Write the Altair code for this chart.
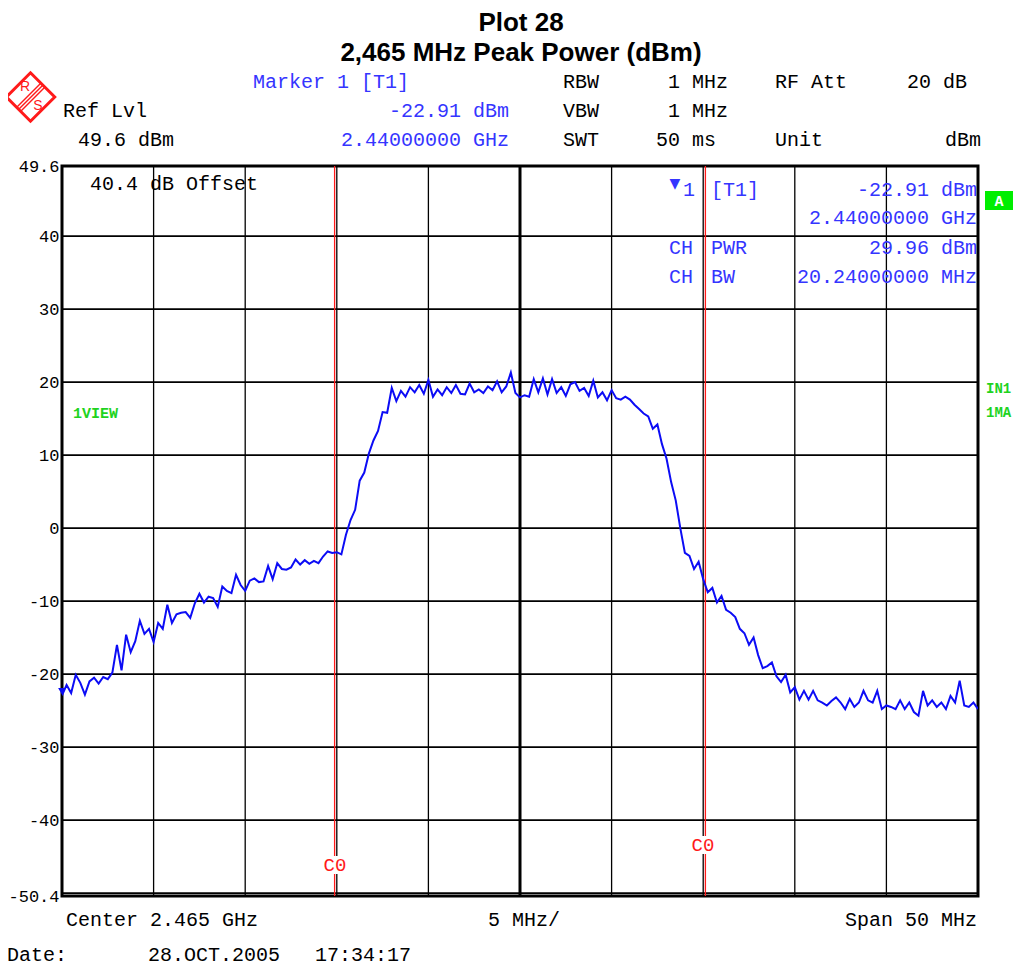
import altair as alt
import pandas as pd

# ---------------- data ----------------
START_GHZ = 2.44
STOP_GHZ = 2.49
levels_dbm = [
    -22.9, -21.5, -22.6, -20.1,
    -21.2, -22.8, -21.0, -20.5,
    -21.3, -20.4, -20.7, -19.8,
    -16.0, -19.5, -14.6, -17.0,
    -15.5, -12.7, -14.5, -13.8,
    -15.6, -13.0, -13.8, -10.5,
    -13.0, -11.8, -11.6, -11.5,
    -12.3, -10.3, -9.0, -10.2,
    -9.4, -9.6, -10.8, -8.0,
    -8.6, -8.9, -6.4, -7.8,
    -8.6, -7.2, -6.9, -7.4,
    -7.3, -5.2, -7.0, -4.8,
    -5.6, -5.7, -5.4, -4.3,
    -5.0, -4.4, -4.9, -4.5,
    -4.8, -3.9, -3.2, -3.4,
    -3.3, -3.6, -0.9, 1.1,
    2.5, 6.5, 7.6, 10.2,
    12.0, 13.3, 15.9, 15.8,
    19.2, 17.4, 18.8, 18.0,
    19.3, 18.6, 19.6, 18.4,
    20.3, 18.0, 19.0, 18.2,
    19.3, 18.5, 19.6, 18.4,
    18.3, 19.8, 18.6, 19.0,
    18.5, 19.4, 18.9, 20.1,
    18.6, 19.4, 21.3, 18.5,
    17.9, 18.2, 18.0, 20.4,
    18.6, 20.5, 18.3, 20.4,
    18.5, 19.3, 18.1, 19.7,
    20.0, 18.8, 19.2, 18.1,
    20.2, 17.9, 18.6, 17.5,
    18.9, 17.8, 17.6, 18.0,
    17.6, 16.9, 16.3, 15.7,
    15.3, 13.6, 14.2, 11.5,
    9.5, 6.3, 3.8, 0.0,
    -3.4, -3.8, -5.6, -4.6,
    -7.0, -8.8, -8.2, -10.2,
    -9.3, -11.2, -11.6, -12.2,
    -13.8, -14.4, -16.0, -15.0,
    -17.4, -19.2, -18.9, -18.4,
    -20.3, -21.1, -20.1, -22.5,
    -21.8, -23.5, -22.3, -23.5,
    -22.3, -23.6, -23.9, -24.3,
    -23.7, -23.2, -23.9, -24.8,
    -23.4, -24.5, -23.9, -22.3,
    -23.6, -23.9, -22.3, -24.8,
    -24.3, -24.5, -24.8, -23.6,
    -24.8, -23.9, -25.2, -25.7,
    -22.3, -24.3, -23.6, -24.5,
    -23.9, -24.8, -23.0, -23.9,
    -20.9, -24.3, -24.5, -23.9,
    -24.8,
]
N = len(levels_dbm)
freqs_ghz = [START_GHZ + i * (STOP_GHZ - START_GHZ) / (N - 1) for i in range(N)]

vgrid_ghz = [2.445, 2.45, 2.455, 2.46, 2.47, 2.475, 2.48, 2.485]
center_ghz = [2.465]
hgrid_dbm = [-50, -40, -30, -20, -10, 0, 10, 20, 30, 40]
ytick_values = [49.6, 40, 30, 20, 10, 0, -10, -20, -30, -40, -50.4]
channel_edges_ghz = [2.45488, 2.47512]
marker_freq = [2.44]
marker_level = [-22.91]

# ---------------- layout ----------------
OX, OY = 62, 166          # page position of plot-area origin
W, H = 916, 730
MONO = "Liberation Mono"
SANS = "Liberation Sans"
BLUE = "#3535ff"
TRACE = "#0c0cf5"
RED = "#ff1a1a"
GREEN = "#1fd31f"

xscale = alt.Scale(domain=[START_GHZ, STOP_GHZ], nice=False, zero=False)
yscale = alt.Scale(domain=[-50.4, 49.6], nice=False, zero=False)
yaxis = alt.Axis(
    values=ytick_values, labelExpr="toString(datum.value)", ticks=False,
    domain=False, grid=False, labelFont=MONO, labelFontSize=17,
    labelColor="black", labelPadding=3, labelOverlap=False, title=None)

trace_df = pd.DataFrame({"freq": freqs_ghz, "level": levels_dbm})


def txt(s, px, py, color="black", align="left", size=20, weight="normal",
        font=MONO, baseline="middle"):
    return alt.Chart(pd.DataFrame({"t": [s]})).mark_text(
        align=align, baseline=baseline, font=font, fontSize=size,
        fontWeight=weight, color=color
    ).encode(text="t:N", x=alt.value(px - OX), y=alt.value(py - OY))


def box(x1, y1, x2, y2, fill):
    return alt.Chart(pd.DataFrame({"k": [0]})).mark_rect(color=fill).encode(
        x=alt.value(x1 - OX), x2=alt.value(x2 - OX),
        y=alt.value(y1 - OY), y2=alt.value(y2 - OY))


def seg(x1, y1, x2, y2, color, width):
    return alt.Chart(pd.DataFrame({"k": [0]})).mark_rule(color=color, strokeWidth=width).encode(
        x=alt.value(x1 - OX), x2=alt.value(x2 - OX),
        y=alt.value(y1 - OY), y2=alt.value(y2 - OY))


hgrid = alt.Chart(pd.DataFrame({"level": hgrid_dbm})).mark_rule(
    color="black", strokeWidth=1.6).encode(y=alt.Y("level:Q", scale=yscale, axis=yaxis))
vgrid = alt.Chart(pd.DataFrame({"freq": vgrid_ghz})).mark_rule(
    color="black", strokeWidth=1.3).encode(x=alt.X("freq:Q", scale=xscale, axis=None))
cgrid = alt.Chart(pd.DataFrame({"freq": center_ghz})).mark_rule(
    color="black", strokeWidth=3).encode(x=alt.X("freq:Q", scale=xscale, axis=None))
edges = alt.Chart(pd.DataFrame({"freq": channel_edges_ghz})).mark_rule(
    color=RED, strokeWidth=1.3).encode(x=alt.X("freq:Q", scale=xscale, axis=None))

trace = alt.Chart(trace_df).mark_line(color=TRACE, strokeWidth=2, clip=True).encode(
    x=alt.X("freq:Q", scale=xscale, axis=None),
    y=alt.Y("level:Q", scale=yscale, axis=yaxis),
)

marker = alt.Chart(pd.DataFrame({"freq": marker_freq, "level": marker_level})).mark_point(
    shape="triangle-down", filled=True, color=TRACE, size=60, opacity=1, yOffset=-4
).encode(x=alt.X("freq:Q", scale=xscale, axis=None),
         y=alt.Y("level:Q", scale=yscale, axis=yaxis))

layers = [hgrid, vgrid, cgrid, edges,
          box(324, 856, 347, 874, "white"), box(692, 836, 715, 854, "white"),
          txt("C0", 335, 865, color=RED, align="center", size=19),
          txt("C0", 703, 845, color=RED, align="center", size=19),
          trace, marker]

# logo
logo = alt.Chart(pd.DataFrame({"k": [0]})).mark_point(
    shape="diamond", filled=False, color=RED, size=2350, strokeWidth=3, opacity=1
).encode(x=alt.value(30.5 - OX), y=alt.value(97 - OY))
layers += [logo,
           seg(16.5, 107.5, 41, 83, RED, 1.5),
           seg(18.5, 109.5, 43, 85, RED, 1.5),
           seg(20.5, 111.5, 45, 87, RED, 1.5),
           txt("R", 25, 87, color=RED, align="center", size=14, font=SANS),
           txt("S", 38, 106, color=RED, align="center", size=14, font=SANS)]

# titles
layers += [txt("Plot 28", 521, 23, align="center", size=26, weight="bold", font=SANS),
           txt("2,465 MHz Peak Power (dBm)", 521, 53, align="center", size=26,
               weight="bold", font=SANS)]

# header
layers += [
    txt("Marker 1 [T1]", 253, 82, color=BLUE),
    txt("RBW", 563, 82), txt("1 MHz", 728, 82, align="right"),
    txt("RF Att", 775, 82), txt("20 dB", 967, 82, align="right"),
    txt("Ref Lvl", 63, 111),
    txt("-22.91 dBm", 509, 111, color=BLUE, align="right"),
    txt("VBW", 563, 111), txt("1 MHz", 728, 111, align="right"),
    txt("49.6 dBm", 78, 140),
    txt("2.44000000 GHz", 509, 140, color=BLUE, align="right"),
    txt("SWT", 563, 140), txt("50 ms", 716, 140, align="right"),
    txt("Unit", 775, 140), txt("dBm", 981, 140, align="right"),
]

# in-plot info
layers += [
    txt("40.4 dB Offset", 90, 184),
    txt("\u25bc", 675, 184, color=BLUE, align="center", size=14, font="DejaVu Sans"),
    txt("1", 683, 190, color=BLUE),
    txt("[T1]", 711, 190, color=BLUE),
    txt("-22.91 dBm", 977, 190, color=BLUE, align="right"),
    txt("2.44000000 GHz", 977, 218, color=BLUE, align="right"),
    txt("CH", 669, 248, color=BLUE), txt("PWR", 711, 248, color=BLUE),
    txt("29.96 dBm", 977, 248, color=BLUE, align="right"),
    txt("CH", 669, 277, color=BLUE), txt("BW", 711, 277, color=BLUE),
    txt("20.24000000 MHz", 977, 277, color=BLUE, align="right"),
]

# side labels
layers += [
    txt("1VIEW", 73, 413, color=GREEN, size=15, weight="bold"),
    txt("IN1", 986, 389, color=GREEN, size=14, weight="bold"),
    txt("1MA", 986, 413, color=GREEN, size=14, weight="bold"),
    box(985, 191, 1013, 210, "#00ee00"),
    txt("A", 999, 201, color="white", align="center", size=15, weight="bold"),
]

# footer
layers += [
    txt("Center 2.465 GHz", 66, 920),
    txt("5 MHz/", 524, 920, align="center"),
    txt("Span 50 MHz", 977, 920, align="right"),
    txt("Date:", 7, 955),
    txt("28.OCT.2005", 148, 955),
    txt("17:34:17", 315, 955),
]

chart = alt.layer(*layers).properties(
    width=W, height=H,
    padding={"left": OX - 8, "top": OY - 8, "right": 35, "bottom": 71},
    autosize=alt.AutoSizeParams(type="none"),
    background="white",
).configure_view(stroke="black", strokeWidth=3)

chart.save("out.html", embed_options={"renderer": "svg", "actions": False})
